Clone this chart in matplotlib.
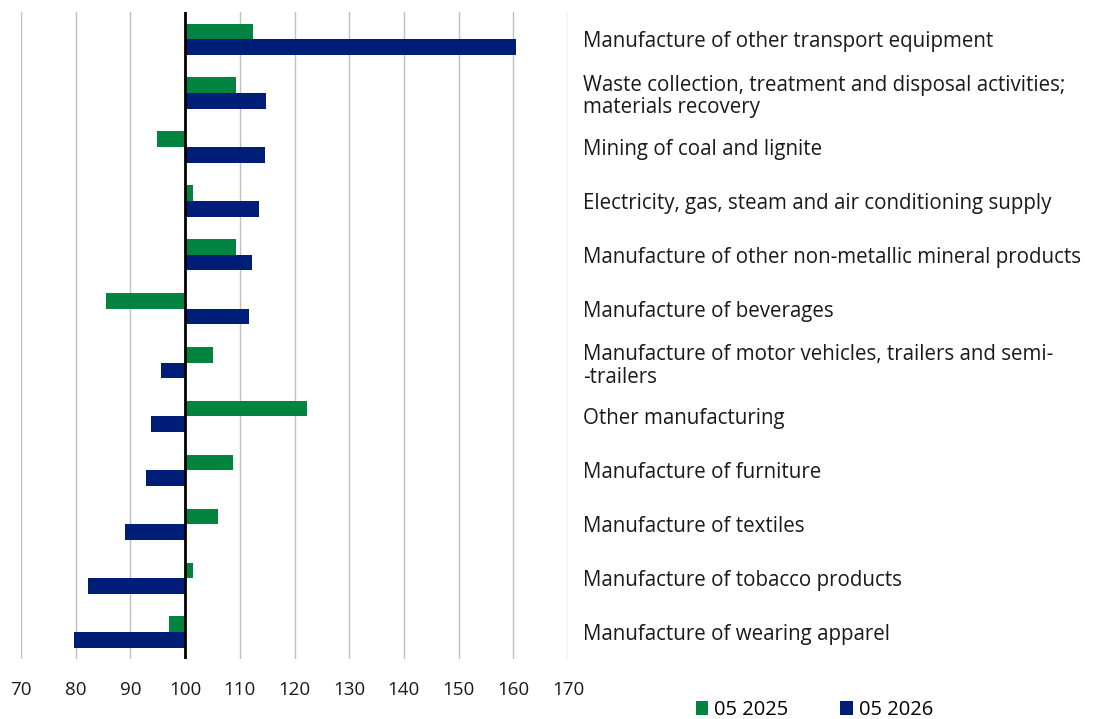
import numpy as np
import matplotlib.pyplot as plt
from matplotlib.patches import Patch

# Data (index, base = 100)
categories = [
    "Manufacture of other transport equipment",
    "Waste collection, treatment and disposal activities;\nmaterials recovery",
    "Mining of coal and lignite",
    "Electricity, gas, steam and air conditioning supply",
    "Manufacture of other non-metallic mineral products",
    "Manufacture of beverages",
    "Manufacture of motor vehicles, trailers and semi-\n-trailers",
    "Other manufacturing",
    "Manufacture of furniture",
    "Manufacture of textiles",
    "Manufacture of tobacco products",
    "Manufacture of wearing apparel",
]
vals_2025 = [112.4, 109.3, 94.8, 101.4, 109.3, 85.6, 105.1, 122.2, 108.7, 106.1, 101.4, 97.1]
vals_2026 = [160.4, 114.8, 114.6, 113.6, 112.2, 111.7, 95.6, 93.8, 92.9, 89.1, 82.3, 79.7]
series_names = ["05 2025", "05 2026"]
xticks = list(range(70, 171, 10))

green = "#00843F"
blue = "#001E78"
base = 100

plt.rcParams['font.family'] = ['Open Sans', 'DejaVu Sans']

fig = plt.figure(figsize=(10.93, 7.19), dpi=100)
ax = fig.add_axes([0.0192, 0.0834, 0.5005, 0.8996])

n = len(categories)
y = np.arange(n)[::-1]
h = 0.29

ax.barh(y + h / 2, np.array(vals_2025) - base, left=base, height=h, color=green, zorder=3)
ax.barh(y - h / 2, np.array(vals_2026) - base, left=base, height=h, color=blue, zorder=3)

ax.set_xlim(70, 170)
ax.set_ylim(-0.5, n - 0.5)
ax.set_xticks(xticks)
ax.set_xticklabels([str(t) for t in xticks], fontsize=13.5, color="#1a1a1a")
ax.xaxis.grid(True, color="#BFBFBF", linewidth=1, zorder=0)
ax.axvline(base, color="black", linewidth=2, zorder=4)

ax.set_yticks(y)
ax.set_yticklabels(categories, fontsize=14.8, color="#1a1a1a", ha="left", linespacing=1.1)
ax.yaxis.tick_right()
ax.tick_params(axis="y", length=0, pad=11)
ax.tick_params(axis="x", length=0, pad=16)

for s in ax.spines.values():
    s.set_visible(False)

handles = [Patch(facecolor=green), Patch(facecolor=blue)]
fig.legend(handles, series_names, loc="lower center", bbox_to_anchor=(0.745, -0.027),
           ncol=2, frameon=False, fontsize=14.5, handlelength=0.6, handleheight=0.7,
           handletextpad=0.3, columnspacing=2.6)

plt.savefig("out.png", dpi=100)
